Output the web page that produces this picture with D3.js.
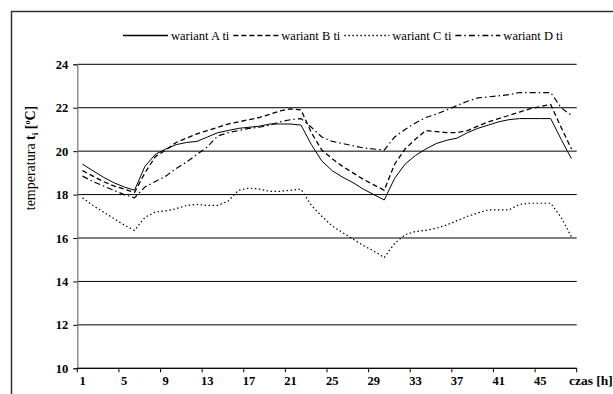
<!DOCTYPE html>
<html>
<head>
<meta charset="utf-8">
<script src="https://cdn.jsdelivr.net/npm/d3@7"></script>
<style>
  body { margin: 0; background: #fff; }
  svg text { font-family: "Liberation Serif", "Times New Roman", serif; }
</style>
</head>
<body>
<div id="chart"></div>
<script>
var width = 613, height = 394;
var plot = {left: 77.3, right: 576.7, top: 64.3, bottom: 368.3};

// hours (category axis)
var hours = [1,2,3,4,5,6,7,8,9,10,11,12,13,14,15,16,17,18,19,20,21,22,23,24,
             25,26,27,28,29,30,31,32,33,34,35,36,37,38,39,40,41,42,43,44,45,46,47,48];
var xTickLabels = [1,5,9,13,17,21,25,29,33,37,41,45];
var yTicks = [10,12,14,16,18,20,22,24];

var wariantA = [19.4,19.1,18.8,18.55,18.35,18.2,19.3,19.85,20.1,20.3,20.4,20.45,
                20.65,20.85,20.95,21.05,21.1,21.15,21.25,21.25,21.25,21.2,20.3,19.55,
                19.1,18.8,18.55,18.25,18.0,17.75,18.75,19.4,19.8,20.1,20.35,20.5,
                20.6,20.85,21.05,21.2,21.35,21.45,21.5,21.5,21.5,21.5,20.55,19.65];
var wariantB = [19.1,18.85,18.6,18.4,18.25,18.1,19.0,19.75,20.05,20.4,20.6,20.8,
                20.95,21.1,21.25,21.35,21.45,21.55,21.7,21.85,21.95,21.9,20.85,20.05,
                19.65,19.3,19.0,18.7,18.45,18.2,19.4,20.1,20.55,20.95,20.9,20.85,
                20.85,20.95,21.15,21.35,21.5,21.65,21.8,21.95,22.05,22.15,21.1,20.1];
var wariantC = [17.85,17.5,17.2,16.9,16.6,16.35,16.95,17.2,17.25,17.35,17.5,17.55,
                17.5,17.5,17.7,18.2,18.3,18.25,18.15,18.15,18.2,18.25,17.5,17.0,
                16.55,16.25,15.95,15.65,15.4,15.1,15.75,16.15,16.3,16.35,16.45,16.6,
                16.8,17.0,17.15,17.3,17.3,17.3,17.55,17.6,17.6,17.6,16.95,16.05];
var wariantD = [18.85,18.6,18.4,18.2,18.0,17.85,18.35,18.6,18.85,19.2,19.5,19.85,
                20.2,20.7,20.85,20.95,21.05,21.1,21.2,21.35,21.45,21.5,21.1,20.65,
                20.45,20.35,20.25,20.15,20.1,20.05,20.65,21.0,21.3,21.55,21.7,21.9,
                22.1,22.3,22.45,22.5,22.55,22.6,22.7,22.7,22.7,22.7,22.0,21.65];

var seriesNames = ["wariant A ti", "wariant B ti", "wariant C ti", "wariant D ti"];
var seriesValues = [wariantA, wariantB, wariantC, wariantD];
var dashes = [null, "5,3", "1.5,2.5", "6,3,1.5,3"];
var widths = [1, 1.3, 1.2, 1.2];
var serif = "Liberation Serif";

var svg = d3.select("#chart")
  .append("svg")
    .attr("width", width)
    .attr("height", height)
    .attr("font-family", serif);

// outer frame
svg.append("rect")
    .attr("x", 11.5).attr("y", 11.5)
    .attr("width", width + 20).attr("height", height + 20)
    .attr("fill", "none")
    .attr("stroke", "#333")
    .attr("stroke-width", 1.5);

var x = d3.scaleBand()
  .domain(hours)
  .range([plot.left, plot.right]);

var y = d3.scaleLinear()
  .domain([10, 24])
  .range([plot.bottom, plot.top]);

// horizontal grid lines
svg.append("g")
  .selectAll("line")
  .data(yTicks)
  .enter()
  .append("line")
    .attr("x1", plot.left)
    .attr("x2", plot.right)
    .attr("y1", function(d) { return y(d); })
    .attr("y2", function(d) { return y(d); })
    .attr("stroke", "#000")
    .attr("stroke-width", 1);

// Y axis
var yAxis = svg.append("g")
  .attr("transform", "translate(" + plot.left + ",0)")
  .call(d3.axisLeft(y).tickValues(yTicks).tickSize(4).tickPadding(5));
yAxis.attr("font-family", serif);
yAxis.select(".domain").attr("stroke", "#808080").attr("stroke-width", 1.3);
yAxis.selectAll(".tick line").attr("stroke", "#000");
yAxis.selectAll("text")
    .attr("font-family", serif)
    .style("font-weight", "bold")
    .style("font-size", "12.5px")
    .attr("fill", "#000");

// X axis: ticks at every 4th category boundary
var xAxis = svg.append("g")
  .attr("transform", "translate(0," + plot.bottom + ")");
xAxis.append("line")
    .attr("x1", plot.left).attr("x2", plot.right)
    .attr("stroke", "#000");
xAxis.selectAll(".xt")
  .data(xTickLabels.concat([49]))
  .enter()
  .append("line")
    .attr("class", "xt")
    .attr("x1", function(d) { return d == 49 ? plot.right : x(d); })
    .attr("x2", function(d) { return d == 49 ? plot.right : x(d); })
    .attr("y1", 0).attr("y2", 4)
    .attr("stroke", "#000");
xAxis.selectAll(".xl")
  .data(xTickLabels)
  .enter()
  .append("text")
    .attr("class", "xl")
    .attr("x", function(d) { return x(d) + x.bandwidth() / 2; })
    .attr("y", 17)
    .attr("text-anchor", "middle")
    .attr("font-family", serif)
    .style("font-weight", "bold")
    .style("font-size", "12.5px")
    .text(function(d) { return d; });

svg.append("text")
    .attr("x", 569)
    .attr("y", plot.bottom + 17)
    .attr("font-family", serif)
    .style("font-weight", "bold")
    .style("font-size", "13.5px")
    .text("czas [h]");

// lines
var line = d3.line()
  .x(function(d, i) { return x(hours[i]) + x.bandwidth() / 2; })
  .y(function(d) { return y(d); });

svg.selectAll(".series")
  .data(seriesValues)
  .enter()
  .append("path")
    .attr("class", "series")
    .attr("d", function(d) { return line(d); })
    .attr("fill", "none")
    .attr("stroke", "#000")
    .attr("stroke-width", function(d, i) { return widths[i]; })
    .attr("stroke-dasharray", function(d, i) { return dashes[i]; });

// legend
var legend = svg.append("g");
var lx = 123, ly = 35.5, lineLen = 45;
seriesNames.forEach(function(name, i) {
  legend.append("line")
      .attr("x1", lx).attr("x2", lx + lineLen)
      .attr("y1", ly).attr("y2", ly)
      .attr("stroke", "#000")
      .attr("stroke-width", widths[i] + 0.3)
      .attr("stroke-dasharray", dashes[i]);
  var t = legend.append("text")
      .attr("x", lx + lineLen + 3)
      .attr("y", ly + 4)
      .attr("font-family", serif)
      .style("font-size", "12.5px")
      .text(name);
  lx += lineLen + 3 + t.node().getComputedTextLength() + 4;
});

// y axis title
var yt = svg.append("text")
    .attr("transform", "translate(35,158) rotate(-90)")
    .attr("text-anchor", "middle")
    .attr("font-family", serif)
    .style("font-size", "14px");
yt.append("tspan").text("temperatura  ");
yt.append("tspan").style("font-weight", "bold").text("t");
yt.append("tspan").style("font-weight", "bold").style("font-size", "9px").attr("dy", 3).text("i");
yt.append("tspan").style("font-weight", "bold").attr("dy", -3).text(" [");
yt.append("tspan").style("font-weight", "bold").style("font-size", "8px").attr("dy", -5).text("o");
yt.append("tspan").style("font-weight", "bold").attr("dy", 5).text("C]");
</script>
</body>
</html>
